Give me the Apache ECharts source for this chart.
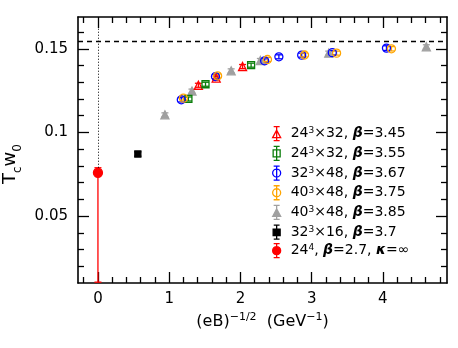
<!DOCTYPE html>
<html>
<head>
<meta charset="utf-8">
<script src="https://cdn.jsdelivr.net/npm/echarts@6/dist/echarts.min.js"></script>
<style>
  html, body { margin: 0; padding: 0; background: #fff; }
  #main { width: 458px; height: 348px; }
</style>
</head>
<body>
<div id="main"></div>
<script>
// axis ranges and ticks
const xMin = -0.28, xMax = 4.9;
const yMin = 0.01, yMax = 0.169;
const xMajor = [0, 1, 2, 3, 4];
const xMinor = [-0.2, 0.2, 0.4, 0.6, 0.8, 1.2, 1.4, 1.6, 1.8, 2.2, 2.4, 2.6, 2.8, 3.2, 3.4, 3.6, 3.8, 4.2, 4.4, 4.6, 4.8];
const yMajor = [0.05, 0.1, 0.15];
const yMinor = [0.02, 0.03, 0.04, 0.06, 0.07, 0.08, 0.09, 0.11, 0.12, 0.13, 0.14, 0.16];

// T_c w_0 at B -> infinity (dashed line)
const tcInf = 0.1546;

// 24^3x32, beta=3.45
const redX = [1.41, 1.66, 2.03];
const redY = [0.1282, 0.1325, 0.1394];
const redE = [0.0012, 0.0012, 0.0012];
// 24^3x32, beta=3.55
const greenX = [1.27, 1.51, 2.15];
const greenY = [0.1200, 0.1288, 0.1402];
const greenE = [0.0012, 0.0012, 0.0012];
// 32^3x48, beta=3.67
const blueX = [1.17, 1.65, 2.34, 2.54, 2.86, 3.29, 4.05];
const blueY = [0.1195, 0.1334, 0.1428, 0.1452, 0.1462, 0.1477, 0.1504];
const blueE = [0.0013, 0.0013, 0.0012, 0.0012, 0.0012, 0.0013, 0.0014];
// 40^3x48, beta=3.75
const orangeX = [1.20, 1.68, 2.38, 2.90, 3.35, 4.12];
const orangeY = [0.1205, 0.1338, 0.1436, 0.1463, 0.1474, 0.1500];
const orangeE = [0.0012, 0.0012, 0.0012, 0.0012, 0.0012, 0.0013];
// 40^3x48, beta=3.85
const grayX = [0.94, 1.32, 1.87, 2.28, 3.24, 4.61];
const grayY = [0.1105, 0.1247, 0.1368, 0.1430, 0.1474, 0.1512];
const grayE = [0.0012, 0.0012, 0.0012, 0.0012, 0.0012, 0.0012];
// 32^3x16, beta=3.7
const blackX = [0.56];
const blackY = [0.0871];
const blackE = [0.0013];
// 24^4, beta=2.7, kappa=inf (asymmetric error)
const quenchX = [0];
const quenchY = [0.0759];
const quenchLo = [0.0105];
const quenchHi = [0.0789];

const names = [
  '24³×32, β=3.45', '24³×32, β=3.55', '32³×48, β=3.67',
  '40³×48, β=3.75', '40³×48, β=3.85', '32³×16, β=3.7', '24⁴, β=2.7, κ=∞'
];
const richNames = {
  '24³×32, β=3.45': '24{s|3}×32, {b|β}=3.45',
  '24³×32, β=3.55': '24{s|3}×32, {b|β}=3.55',
  '32³×48, β=3.67': '32{s|3}×48, {b|β}=3.67',
  '40³×48, β=3.75': '40{s|3}×48, {b|β}=3.75',
  '40³×48, β=3.85': '40{s|3}×48, {b|β}=3.85',
  '32³×16, β=3.7': '32{s|3}×16, {b|β}=3.7',
  '24⁴, β=2.7, κ=∞': '24{s|4}, {b|β}=2.7, {b|κ}=∞'
};

const FONT = 'DejaVu Sans';
const black = '#000';

function pts(xs, ys) { return xs.map((x, i) => [x, ys[i]]); }
function errs(xs, ys, es) { return xs.map((x, i) => [x, ys[i] - es[i], ys[i] + es[i]]); }

function errSeries(data, color) {
  return {
    type: 'custom',
    silent: true,
    xAxisIndex: 0, yAxisIndex: 0,
    data: data,
    renderItem: function (params, api) {
      const x = api.value(0);
      const a = api.coord([x, api.value(1)]);
      const b = api.coord([x, api.value(2)]);
      const w = 3.5;
      const st = { stroke: color, lineWidth: 1.3 };
      return {
        type: 'group',
        children: [
          { type: 'line', shape: { x1: a[0], y1: a[1], x2: b[0], y2: b[1] }, style: st },
          { type: 'line', shape: { x1: a[0] - w, y1: a[1], x2: a[0] + w, y2: a[1] }, style: st },
          { type: 'line', shape: { x1: b[0] - w, y1: b[1], x2: b[0] + w, y2: b[1] }, style: st }
        ]
      };
    },
    z: 3
  };
}

function markSeries(name, data, symbol, size, color, hollow) {
  return {
    name: name,
    type: 'scatter',
    data: data,
    symbol: symbol,
    symbolSize: size,
    itemStyle: {
      color: hollow ? 'rgba(0,0,0,0)' : color,
      borderColor: color,
      borderWidth: 1.3,
      opacity: 1
    },
    z: 4
  };
}

const icTri = 'path://M5 0V14M2 0H8M2 14H8M1 11L5 3.5L9 11Z';
const icSq = 'path://M5 0V14M2 0H8M2 14H8M1.5 3.5H8.5V10.5H1.5Z';
const icCirc = 'path://M5 0V14M2 0H8M2 14H8M1 7A4 4 0 1 1 9 7A4 4 0 1 1 1 7Z';
const icBlk = 'path://M5 1V13M2.5 1H7.5M2.5 13H7.5M2 4.5H8V10H2Z';

const red = '#ff0000', green = '#0a7d0a', blue = '#0000ff', orange = '#ffa500', gray = '#a0a0a0';

const chart = echarts.init(document.getElementById('main'));

const tickStyle = { color: black, width: 1.3 };
function xAx(pos, major, labels) {
  return {
    type: 'value', min: xMin, max: xMax, position: pos,
    axisLine: { show: major, onZero: false, lineStyle: { color: black, width: 1.6 } },
    splitLine: { show: false },
    axisTick: { show: true, inside: true, length: major ? 11 : 6, customValues: major ? xMajor : xMinor, lineStyle: tickStyle },
    axisLabel: labels ? {
      show: true, customValues: xMajor, margin: 9, color: black, fontSize: 15, fontFamily: FONT,
      formatter: v => String(v)
    } : { show: false },
    name: labels ? '(eB){p|−1/2}  (GeV{p|−1})' : '',
    nameLocation: 'middle',
    nameGap: 29,
    nameTextStyle: {
      color: black, fontSize: 16, fontFamily: FONT, lineHeight: 19,
      rich: { p: { fontSize: 11, fontFamily: FONT, color: black, verticalAlign: 'top', lineHeight: 11 } }
    }
  };
}
function yAx(pos, major, labels) {
  return {
    type: 'value', min: yMin, max: yMax, position: pos,
    axisLine: { show: major, onZero: false, lineStyle: { color: black, width: 1.6 } },
    splitLine: { show: false },
    axisTick: { show: true, inside: true, length: major ? 11 : 6, customValues: major ? yMajor : yMinor, lineStyle: tickStyle },
    axisLabel: labels ? {
      show: true, customValues: yMajor, margin: 10, color: black, fontSize: 15, fontFamily: FONT,
      formatter: v => String(Math.round(v * 100) / 100)
    } : { show: false },
    name: labels ? '{n|T}{s|c}{n|w}{s|0}' : '',
    nameLocation: 'middle',
    nameGap: 46,
    nameRotate: 90,
    nameTextStyle: {
      padding: [0, 28, 0, 0],
      rich: {
        n: { fontSize: 18, fontFamily: FONT, color: black, verticalAlign: 'top', lineHeight: 22 },
        s: { fontSize: 12, fontFamily: FONT, color: black, verticalAlign: 'bottom', lineHeight: 22 }
      }
    }
  };
}

const legendText = {
  color: black, fontSize: 14, fontFamily: FONT, padding: [0, 0, 0, 4], lineHeight: 14,
  rich: {
    s: { fontSize: 9, fontFamily: FONT, color: black, verticalAlign: 'top', lineHeight: 9 },
    b: { fontSize: 14, fontFamily: FONT, fontWeight: 'bold', fontStyle: 'italic', color: black, lineHeight: 14 }
  }
};

const option = {
  animation: false,
  backgroundColor: '#fff',
  grid: { left: 78, right: 11, top: 17, bottom: 65, containLabel: false, outerBoundsMode: 'none' },
  xAxis: [xAx('bottom', true, true), xAx('bottom', false, false), xAx('top', true, false), xAx('top', false, false)],
  yAxis: [yAx('left', true, true), yAx('left', false, false), yAx('right', true, false), yAx('right', false, false)],
  legend: [
    {
      orient: 'vertical', left: 272, top: 126, padding: 0,
      itemWidth: 10, itemHeight: 14, itemGap: 4.4,
      selectedMode: false,
      data: [
        { name: names[0], icon: icTri },
        { name: names[1], icon: icSq },
        { name: names[2], icon: icCirc },
        { name: names[3], icon: icCirc },
        { name: names[4], icon: icTri },
        { name: names[5], icon: icBlk }
      ],
      itemStyle: { borderWidth: 1.3 },
      formatter: n => richNames[n],
      textStyle: legendText
    },
    {
      orient: 'vertical', left: 272, top: 243, padding: 0,
      itemWidth: 10, itemHeight: 14,
      selectedMode: false,
      data: [{ name: names[6], icon: icCirc }],
      itemStyle: { borderWidth: 1.3 },
      formatter: n => richNames[n],
      textStyle: legendText
    }
  ],
  series: [
    errSeries(errs(grayX, grayY, grayE), gray),
    markSeries(names[4], pts(grayX, grayY), 'triangle', 8, gray, false),
    errSeries(errs(redX, redY, redE), red),
    markSeries(names[0], pts(redX, redY), 'triangle', 8, red, true),
    errSeries(errs(greenX, greenY, greenE), green),
    markSeries(names[1], pts(greenX, greenY), 'rect', 7, green, true),
    errSeries(errs(blueX, blueY, blueE), blue),
    markSeries(names[2], pts(blueX, blueY), 'circle', 8, blue, true),
    errSeries(errs(orangeX, orangeY, orangeE), orange),
    markSeries(names[3], pts(orangeX, orangeY), 'circle', 8, orange, true),
    errSeries(errs(blackX, blackY, blackE), black),
    markSeries(names[5], pts(blackX, blackY), 'rect', 6, black, false),
    errSeries(quenchX.map((x, i) => [x, quenchLo[i], quenchHi[i]]), red),
    Object.assign(markSeries(names[6], pts(quenchX, quenchY), 'circle', 9, red, false), {
      markLine: {
        silent: true, symbol: 'none', animation: false,
        label: { show: false },
        data: [
          [
            { coord: [xMin, tcInf], lineStyle: { color: black, width: 1.3, type: [5, 4] } },
            { coord: [xMax, tcInf] }
          ],
          [
            { coord: [quenchX[0], quenchHi[0]], lineStyle: { color: black, width: 1, type: [1, 2] } },
            { coord: [quenchX[0], yMax] }
          ]
        ]
      }
    })
  ]
};

chart.setOption(option);
</script>
</body>
</html>
